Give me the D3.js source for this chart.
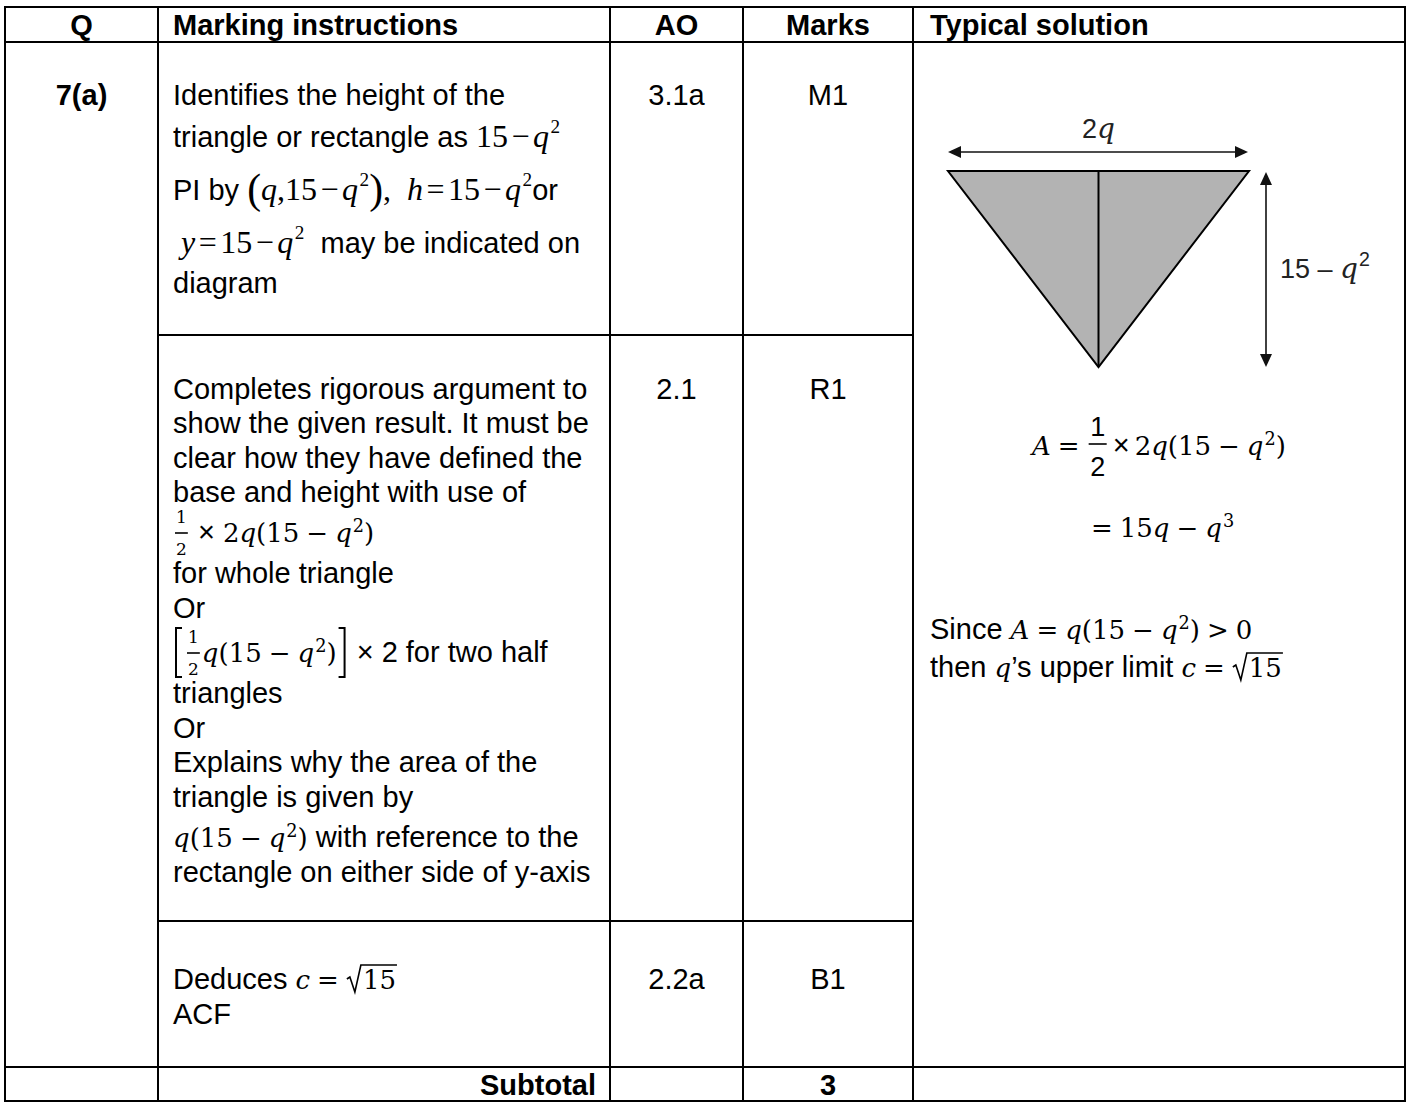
<!DOCTYPE html>
<html>
<head>
<meta charset="utf-8">
<script src="https://cdn.jsdelivr.net/npm/d3@7"></script>
<style>
  html, body { margin: 0; padding: 0; background: #fff; }
  svg text { white-space: pre; }
</style>
</head>
<body>
<div id="sheet"></div>
<script>
// table contents
var headers = ["Q", "Marking instructions", "AO", "Marks", "Typical solution"];
var questionLabel = "7(a)";
var aoCodes = ["3.1a", "2.1", "2.2a"];
var markCodes = ["M1", "R1", "B1"];
var subtotalLabel = "Subtotal";
var subtotalMarks = "3";

// marking instructions, one token array per printed line
// strings = body text, {n} upright maths, {v} italic maths, {o} operator,
// {sup} superscript, {frac} fraction, {sqrt} root, {big} tall bracket
var row1Lines = [
  ["Identifies the height of the"],
  ["triangle or rectangle as ", {n: "15"}, {o: "−"}, {v: "q"}, {sup: "2"}],
  ["PI by ", {big: "("}, {v: "q"}, {n: ",15"}, {o: "−"}, {v: "q"}, {sup: "2"}, {big: ")"}, {n: ",  "}, {v: "h"}, {o: "="}, {n: "15"}, {o: "−"}, {v: "q"}, {sup: "2"}, "or"],
  [{v: " y"}, {o: "="}, {n: "15"}, {o: "−"}, {v: "q"}, {sup: "2"}, "  may be indicated on"],
  ["diagram"]
];
var row2Lines = [
  ["Completes rigorous argument to"],
  ["show the given result. It must be"],
  ["clear how they have defined the"],
  ["base and height with use of"],
  [{frac: ["1", "2"]}, " × ", {n: "2"}, {v: "q"}, {n: "(15"}, {o: "−"}, {v: "q"}, {sup: "2"}, {n: ")"}],
  ["for whole triangle"],
  ["Or"],
  [{big: "["}, {frac: ["1", "2"]}, {v: "q"}, {n: "(15"}, {o: "−"}, {v: "q"}, {sup: "2"}, {n: ")"}, {big: "]"}, " × 2 for two half"],
  ["triangles"],
  ["Or"],
  ["Explains why the area of the"],
  ["triangle is given by"],
  [{v: "q"}, {n: "(15"}, {o: "−"}, {v: "q"}, {sup: "2"}, {n: ")"}, " with reference to the"],
  ["rectangle on either side of y-axis"]
];
var row3Lines = [
  ["Deduces ", {v: "c"}, {o: "="}, {sqrt: "15"}],
  ["ACF"]
];
var solutionCentered = [
  [{v: "A"}, {o: "="}, {frac: ["1", "2"], disp: true}, {sp: 4}, "×", {sp: 5}, {n: "2"}, {v: "q"}, {n: "(15"}, {o: "−"}, {v: "q"}, {sup: "2"}, {n: ")"}],
  [{o: "="}, {n: "15"}, {v: "q"}, {o: "−"}, {v: "q"}, {sup: "3"}]
];
var solutionLeft = [
  ["Since ", {v: "A"}, {o: "="}, {v: "q"}, {n: "(15"}, {o: "−"}, {v: "q"}, {sup: "2"}, {n: ")"}, {o: ">"}, {n: "0"}],
  ["then ", {v: "q"}, "’s upper limit ", {v: "c"}, {o: "="}, {sqrt: "15"}]
];
var widthLabel = ["2", "q"];
var heightLabel = ["15 – ", "q", "2"];
// triangle corners in unit space: x from -1 to 1, y from 0 (top) to 1 (apex)
var triangleCorners = [[-1, 0], [1, 0], [0, 1]];

var W = 1410, H = 1102;
var SANS = "'Liberation Sans', Arial, sans-serif";
var TIMES = "'Liberation Serif', 'Times New Roman', serif";
var CAMB = "'DejaVu Serif', Cambria, serif";

// maths styles: MathType (row 1) and Cambria-like (the rest)
var mathType = {fam: TIMES, size: 32, op: 3.5, supScale: 0.6, rise: 0.45, supGap: 1.5, bigScale: 1.3};
var cambria = {fam: CAMB, size: 26, op: 7, supScale: 0.68, rise: 0.4, supGap: 1, bigScale: 1.9};
var bodyFont = {fam: SANS, size: 29, weight: "normal", fill: "#000"};

var colX = [5, 158, 610, 743, 913, 1405];
var rowY = [7, 42, 335, 921, 1067, 1101];

var svg = d3.select("#sheet").append("svg")
  .attr("width", W)
  .attr("height", H)
  .style("display", "block");

function put(g, x, y, str, fam, size, style, weight, fill) {
  var t = g.append("text")
    .attr("x", x)
    .attr("y", y)
    .attr("font-family", fam)
    .attr("font-size", size)
    .attr("font-style", style || "normal")
    .attr("font-weight", weight || "normal")
    .attr("fill", fill || "#000")
    .text(str.replace(/ /g, "\u00a0"));
  return t.node().getComputedTextLength();
}

// lays tokens out left to right, then shifts the group for the anchor
function drawLine(parent, tokens, x, y, ms, anchor, body) {
  body = body || bodyFont;
  ms = ms || cambria;
  var fill = body.fill;
  var g = parent.append("g");
  var cx = 0;
  tokens.forEach(function(tk) {
    if (typeof tk === "string") {
      cx += put(g, cx, 0, tk, body.fam, body.size, "normal", body.weight, fill);
    } else if (tk.n !== undefined) {
      cx += put(g, cx, 0, tk.n, ms.fam, ms.size, "normal", "normal", fill);
    } else if (tk.v !== undefined) {
      cx += put(g, cx, 0, tk.v, ms.fam, ms.size, "italic", "normal", fill);
    } else if (tk.o !== undefined) {
      cx += ms.op;
      cx += put(g, cx, 0, tk.o, ms.fam, ms.size, "normal", "normal", fill);
      cx += ms.op;
    } else if (tk.sup !== undefined) {
      cx += ms.supGap;
      cx += put(g, cx, -ms.size * ms.rise, tk.sup, ms.supFam || ms.fam, ms.size * ms.supScale, "normal", "normal", fill);
    } else if (tk.big !== undefined) {
      if (tk.big === "[" || tk.big === "]") {
        var bx = tk.big === "[" ? cx + 3 : cx + 8;
        var tick = tk.big === "[" ? 6 : -6;
        g.append("path")
          .attr("d", "M" + (bx + tick) + "," + (-34) + "H" + bx + "V" + 15 + "H" + (bx + tick))
          .attr("fill", "none")
          .attr("stroke", fill)
          .attr("stroke-width", 2);
        cx += 12;
      } else {
        cx += put(g, cx, ms.size * 0.08, tk.big, ms.fam, ms.size * ms.bigScale, "normal", "normal", fill);
      }
    } else if (tk.frac) {
      var fs = tk.disp ? 27 : 17;
      var ff = tk.disp ? SANS : CAMB;
      var ny = -19, by = tk.disp ? -11 : -9, dy = tk.disp ? 21 : 13;
      var fg = g.append("g");
      var wn = put(fg, 0, ny, tk.frac[0], ff, fs, "normal", "normal", fill);
      var wd = put(fg, 0, dy, tk.frac[1], ff, fs, "normal", "normal", fill);
      var fw = Math.max(wn, wd) + (tk.disp ? 3 : 2);
      fg.selectAll("text").each(function(d, i) {
        var w = i === 0 ? wn : wd;
        d3.select(this).attr("x", (fw - w) / 2);
      });
      fg.append("line")
        .attr("x1", 0).attr("x2", fw)
        .attr("y1", by).attr("y2", by)
        .attr("stroke", fill)
        .attr("stroke-width", 1.6);
      fg.attr("transform", "translate(" + (cx + 2) + ",0)");
      cx += fw + 4;
    } else if (tk.sqrt) {
      var top = -24;
      var dw = put(g, cx + 17, 0, tk.sqrt, ms.fam, ms.size, "normal", "normal", fill);
      g.append("path")
        .attr("d", "M" + (cx + 1) + ",-10 L" + (cx + 4) + ",-12 L" + (cx + 9) + ",3 L" + (cx + 15) + "," + top +
          " H" + (cx + 17 + dw + 1))
        .attr("fill", "none")
        .attr("stroke", fill)
        .attr("stroke-width", 1.6);
      cx += 17 + dw + 1;
    } else if (tk.sp) {
      cx += tk.sp;
    }
  });
  var x0 = anchor === "middle" ? x - cx / 2 : anchor === "end" ? x - cx : x;
  g.attr("transform", "translate(" + x0 + "," + y + ")");
  return g;
}

// ---------------------------------------------------------
// grid lines
var grid = svg.append("g")
  .attr("stroke", "#000")
  .attr("stroke-width", 2);

grid.selectAll("line.v")
  .data(colX)
  .enter()
  .append("line")
  .attr("class", "v")
  .attr("x1", function(d) { return d; })
  .attr("x2", function(d) { return d; })
  .attr("y1", rowY[0] - 1)
  .attr("y2", rowY[rowY.length - 1] + 1);

grid.selectAll("line.h")
  .data(rowY)
  .enter()
  .append("line")
  .attr("class", "h")
  .attr("y1", function(d) { return d; })
  .attr("y2", function(d) { return d; })
  .attr("x1", function(d, i) { return (i === 2 || i === 3) ? colX[1] : colX[0] - 1; })
  .attr("x2", function(d, i) { return (i === 2 || i === 3) ? colX[4] : colX[5] + 1; });

// ---------------------------------------------------------
// header row
var bold = {fam: SANS, size: 29, weight: "bold", fill: "#000"};
var headerPos = [
  {x: (colX[0] + colX[1]) / 2, a: "middle"},
  {x: colX[1] + 15, a: "start"},
  {x: (colX[2] + colX[3]) / 2, a: "middle"},
  {x: (colX[3] + colX[4]) / 2, a: "middle"},
  {x: colX[4] + 17, a: "start"}
];
headers.forEach(function(h, i) {
  drawLine(svg, [h], headerPos[i].x, 35, null, headerPos[i].a, bold);
});

drawLine(svg, [questionLabel], (colX[0] + colX[1]) / 2, 105, null, "middle", bold);

// AO and marks columns
var codeY = [105, 399, 989];
aoCodes.forEach(function(c, i) {
  drawLine(svg, [c], (colX[2] + colX[3]) / 2, codeY[i], null, "middle");
});
markCodes.forEach(function(c, i) {
  drawLine(svg, [c], (colX[3] + colX[4]) / 2, codeY[i], null, "middle");
});

// marking instructions
var textX = colX[1] + 15;
var row1Y = [105, 147, 200, 253, 293];
row1Lines.forEach(function(l, i) { drawLine(svg, l, textX, row1Y[i], mathType); });
var row2Y = [399, 433, 468, 502, 542, 583, 618, 662, 703, 738, 772, 807, 847, 882];
row2Lines.forEach(function(l, i) { drawLine(svg, l, textX, row2Y[i], cambria); });
var row3Y = [989, 1024];
row3Lines.forEach(function(l, i) { drawLine(svg, l, textX, row3Y[i], cambria); });

// subtotal row
drawLine(svg, [subtotalLabel], colX[2] - 14, 1095, null, "end", bold);
drawLine(svg, [subtotalMarks], (colX[3] + colX[4]) / 2, 1095, null, "middle", bold);

// ---------------------------------------------------------
// typical solution: diagram
var dx = d3.scaleLinear().domain([-1, 1]).range([948, 1249]);
var dy = d3.scaleLinear().domain([0, 1]).range([171, 367]);
var diagram = svg.append("g");

diagram.append("path")
  .datum(triangleCorners)
  .attr("d", d3.line()
    .x(function(d) { return dx(d[0]); })
    .y(function(d) { return dy(d[1]); })
    .curve(d3.curveLinearClosed))
  .attr("fill", "#b3b3b3")
  .attr("stroke", "#000")
  .attr("stroke-width", 2)
  .attr("stroke-linejoin", "miter");

diagram.append("line")
  .attr("x1", dx(0)).attr("x2", dx(0))
  .attr("y1", dy(0)).attr("y2", dy(1))
  .attr("stroke", "#000")
  .attr("stroke-width", 2);

function arrow(x1, y1, x2, y2) {
  var len = 13, hw = 6;
  var ang = Math.atan2(y2 - y1, x2 - x1);
  var ux = Math.cos(ang), uy = Math.sin(ang);
  diagram.append("line")
    .attr("x1", x1 + ux * len).attr("y1", y1 + uy * len)
    .attr("x2", x2 - ux * len).attr("y2", y2 - uy * len)
    .attr("stroke", "#111")
    .attr("stroke-width", 1.6);
  [[x1, y1, -1], [x2, y2, 1]].forEach(function(p) {
    var tx = p[0], ty = p[1], s = p[2];
    var bx = tx - s * ux * len, by = ty - s * uy * len;
    diagram.append("path")
      .attr("d", "M" + tx + "," + ty + "L" + (bx - uy * hw) + "," + (by + ux * hw) +
        "L" + (bx + uy * hw) + "," + (by - ux * hw) + "Z")
      .attr("fill", "#111");
  });
}
arrow(dx(-1), 152, dx(1) - 1, 152);
arrow(1266, dy(0) + 1, 1266, dy(1));

// dimension labels: digits are sans, q is italic serif
var labelBody = {fam: SANS, size: 27, weight: "normal", fill: "#222"};
var labelMath = {fam: CAMB, size: 28, op: 0, supScale: 0.7, rise: 0.42, supGap: 1, supFam: SANS};
drawLine(svg, [widthLabel[0], {v: widthLabel[1]}], dx(0), 138, labelMath, "middle", labelBody);
drawLine(svg, [heightLabel[0], {v: heightLabel[1]}, {sup: heightLabel[2]}], 1280, 278, labelMath, "start", labelBody);

// typical solution: working
var solCenter = (colX[4] + colX[5]) / 2;
drawLine(svg, solutionCentered[0], solCenter, 455, cambria, "middle");
drawLine(svg, solutionCentered[1], solCenter, 537, cambria, "middle");
drawLine(svg, solutionLeft[0], colX[4] + 17, 639, cambria);
drawLine(svg, solutionLeft[1], colX[4] + 17, 677, cambria);
</script>
</body>
</html>
